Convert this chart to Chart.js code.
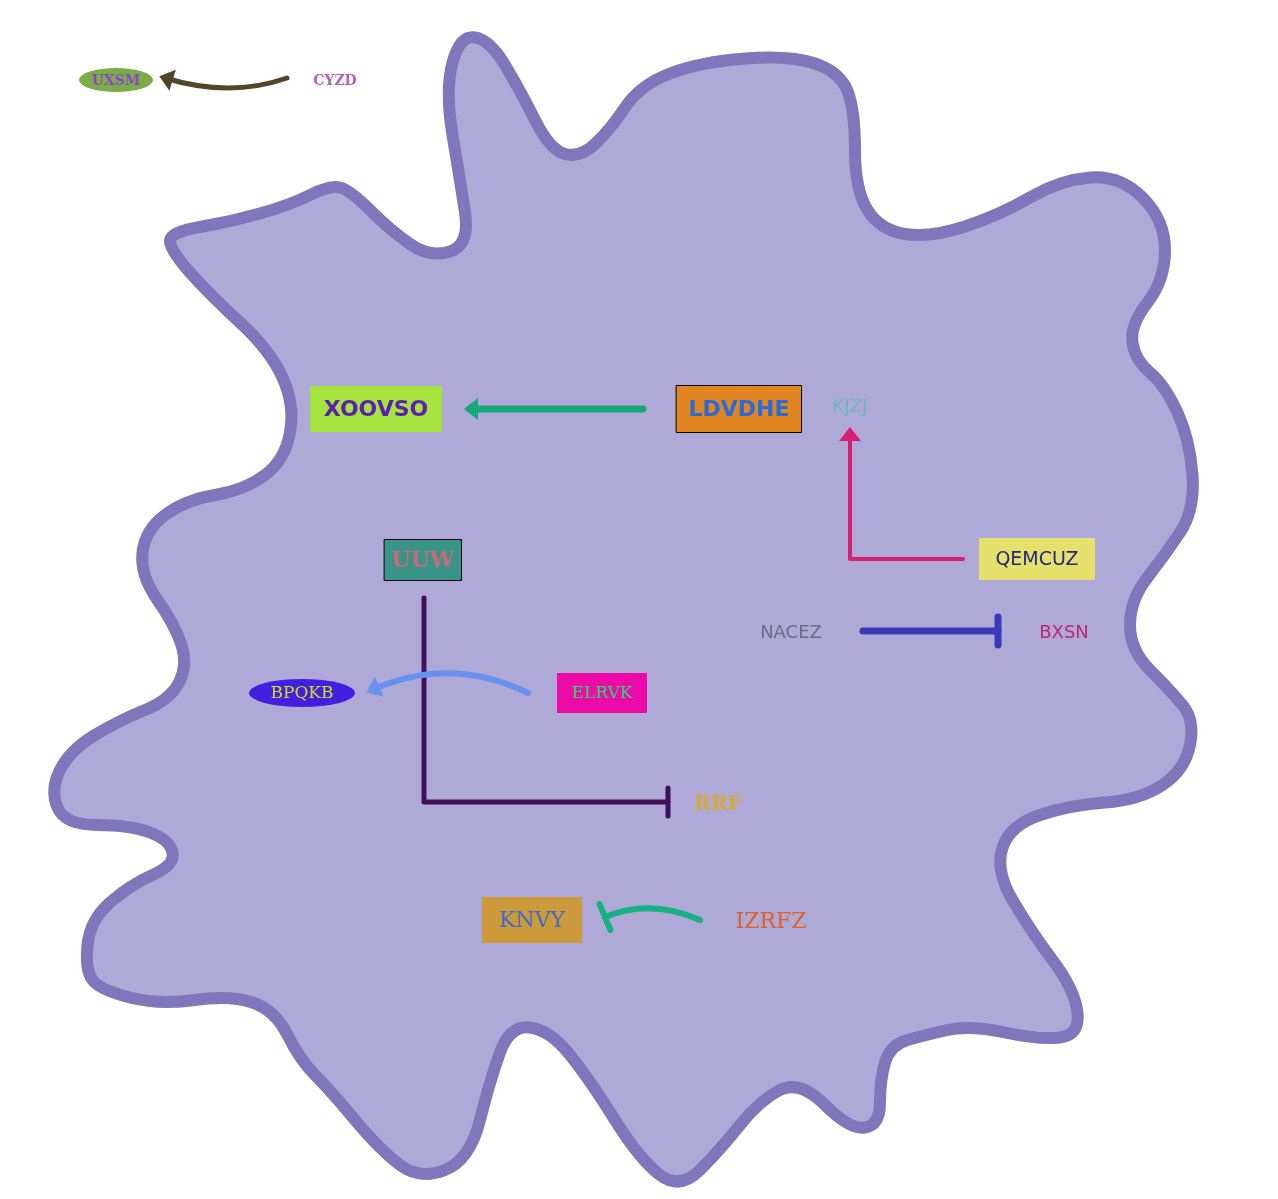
<!DOCTYPE html>
<html>
<head>
<meta charset="utf-8">
<script src="https://cdn.jsdelivr.net/npm/chart.js@4"></script>
<style>
  html, body { margin: 0; padding: 0; background: #fff; }
  #wrap { width: 1278px; height: 1199px; }
</style>
</head>
<body>
<div id="wrap"><canvas id="grafico"></canvas></div>
<script>
// --- Dados ---
// Contorno da célula (x, y em pixels do desenho)
const contornoX = [170,230,290,330,350,390,430,470,460,445,460,490,520,550,580,610,640,700,790,840,855,855,880,930,1000,1060,1120,1165,1165,1130,1135,1165,1190,1195,1165,1130,1130,1170,1195,1185,1140,1070,1010,995,1030,1075,1080,1040,970,925,890,880,880,850,800,760,720,680,640,590,550,510,490,470,420,380,330,300,275,230,160,100,85,90,130,175,170,130,65,50,70,120,170,188,175,140,145,185,245,285,295,270,210,170];
const contornoY = [232,222,205,185,190,230,258,245,180,90,35,40,90,150,158,130,85,62,55,72,110,190,230,238,215,180,175,220,280,325,360,385,440,510,555,600,650,690,720,770,800,805,825,870,930,990,1035,1040,1025,1035,1045,1080,1125,1130,1080,1100,1150,1190,1160,1080,1030,1025,1080,1160,1180,1150,1090,1060,1010,995,1005,990,970,920,885,865,840,825,825,790,750,720,700,665,625,575,530,500,490,460,405,350,295,250];

// Nós: nome, centro, meia-largura, meia-altura, forma
const nomes   = ['UXSM','CYZD','XOOVSO','LDVDHE','KJZJ','QEMCUZ','NACEZ','BXSN','UUW','BPQKB','ELRVK','RRF','KNVY','IZRFZ'];
const nosX    = [116, 335, 376, 739, 850, 1037, 791, 1064, 423, 302, 602, 718, 532, 771];
const nosY    = [80, 80, 409, 409, 406, 559, 632, 632, 560, 693, 693, 804, 920, 921];
const meiaL   = [37, 0, 66, 63, 0, 58, 0, 0, 39, 53, 45, 0, 50, 0];
const meiaA   = [12, 0, 23, 24, 0, 21, 0, 0, 21, 14, 20, 0, 23, 0];
const formas  = ['elipse','texto','ret','ret','texto','ret','texto','texto','ret','elipse','ret','texto','ret','texto'];
const fundos  = ['#7aad48',null,'#a8e23f','#e08520',null,'#e6e06d',null,null,'#379487','#4320e0','#ee0aa8',null,'#cc9a3a',null];
const bordas  = [null,null,null,'#000',null,null,null,null,'#000',null,null,null,null,null];
const corTxt  = ['#8e44c9','#b45ec0','#5b1fb3','#2a6bd8','#6fb5c8','#27287a','#6f6a88','#c0237a','#c96a7a','#c8e020','#20e070','#d8a838','#3e6ad0','#e0602a'];
const fontes  = ['bold 14px "DejaVu Serif"','bold 14px "DejaVu Serif"','bold 22px "DejaVu Sans"','bold 22px "DejaVu Sans"','18px "DejaVu Sans"','19px "DejaVu Sans"','18px "DejaVu Sans"','18px "DejaVu Sans"','bold 22px "DejaVu Serif"','17px "DejaVu Serif"','17px "DejaVu Serif"','bold 20px "DejaVu Serif"','22px "DejaVu Serif"','22px "DejaVu Serif"'];

// Arestas: pontos do caminho (curva quadrática quando tipo = 'curva'), ponta = seta ou barra
const arestas = [
  { px: [287,230,165], py: [78,98,78], tipo: 'curva', ponta: 'seta', cor: '#524628', w: 5 },
  { px: [643,470], py: [409,409], tipo: 'reta', ponta: 'seta', cor: '#16a87a', w: 7 },
  { px: [963,850,850], py: [559,559,433], tipo: 'reta', ponta: 'seta', cor: '#d82070', w: 4 },
  { px: [863,998], py: [631,631], tipo: 'reta', ponta: 'barra', cor: '#3a3ab8', w: 7 },
  { px: [424,424,668], py: [598,802,802], tipo: 'reta', ponta: 'barra', cor: '#40125a', w: 5 },
  { px: [528,450,372], py: [693,655,690], tipo: 'curva', ponta: 'seta', cor: '#6890ee', w: 6 },
  { px: [700,650,605], py: [920,898,917], tipo: 'curva', ponta: 'barra', cor: '#18b080', w: 6 }
];

// --- Plugin de desenho ---
const desenho = {
  id: 'desenho',
  beforeDatasetsDraw(chart) {
    const { ctx, scales } = chart;
    const X = v => scales.x.getPixelForValue(v);
    const Y = v => scales.y.getPixelForValue(v);

    // célula (curva suave fechada)
    const n = contornoX.length;
    ctx.save();
    ctx.beginPath();
    for (let i = 0; i < n; i++) {
      const a = [X(contornoX[i]), Y(contornoY[i])];
      const b = [X(contornoX[(i + 1) % n]), Y(contornoY[(i + 1) % n])];
      const m = [(a[0] + b[0]) / 2, (a[1] + b[1]) / 2];
      if (i === 0) ctx.moveTo(m[0], m[1]);
      else ctx.quadraticCurveTo(a[0], a[1], m[0], m[1]);
    }
    const a0 = [X(contornoX[0]), Y(contornoY[0])];
    const b0 = [X(contornoX[1]), Y(contornoY[1])];
    ctx.quadraticCurveTo(a0[0], a0[1], (a0[0] + b0[0]) / 2, (a0[1] + b0[1]) / 2);
    ctx.closePath();
    ctx.fillStyle = '#afa9d8';
    ctx.fill();
    ctx.lineWidth = 12;
    ctx.strokeStyle = '#7f76bb';
    ctx.lineJoin = 'round';
    ctx.stroke();

    // arestas
    arestas.forEach(e => {
      const xs = e.px.map(X), ys = e.py.map(Y);
      ctx.strokeStyle = e.cor;
      ctx.fillStyle = e.cor;
      ctx.lineWidth = e.w;
      ctx.lineCap = 'round';
      ctx.beginPath();
      ctx.moveTo(xs[0], ys[0]);
      if (e.tipo === 'curva') ctx.quadraticCurveTo(xs[1], ys[1], xs[2], ys[2]);
      else for (let i = 1; i < xs.length; i++) ctx.lineTo(xs[i], ys[i]);
      ctx.stroke();
      const k = xs.length - 1;
      const ang = Math.atan2(ys[k] - ys[k - 1], xs[k] - xs[k - 1]);
      ctx.save();
      ctx.translate(xs[k], ys[k]);
      ctx.rotate(ang);
      if (e.ponta === 'seta') {
        ctx.beginPath();
        ctx.moveTo(6, 0);
        ctx.lineTo(-8, -11);
        ctx.lineTo(-8, 11);
        ctx.closePath();
        ctx.fill();
      } else {
        ctx.beginPath();
        ctx.moveTo(0, -14);
        ctx.lineTo(0, 14);
        ctx.lineWidth = e.w;
        ctx.stroke();
      }
      ctx.restore();
    });

    // nós
    nomes.forEach((nome, i) => {
      const cx = X(nosX[i]), cy = Y(nosY[i]);
      const w = meiaL[i], h = meiaA[i];
      if (formas[i] === 'ret') {
        ctx.fillStyle = fundos[i];
        ctx.fillRect(cx - w, cy - h, w * 2, h * 2);
        if (bordas[i]) {
          ctx.lineWidth = 1;
          ctx.strokeStyle = bordas[i];
          ctx.strokeRect(cx - w + 0.5, cy - h + 0.5, w * 2 - 1, h * 2 - 1);
        }
      } else if (formas[i] === 'elipse') {
        ctx.fillStyle = fundos[i];
        ctx.beginPath();
        ctx.ellipse(cx, cy, w, h, 0, 0, Math.PI * 2);
        ctx.fill();
      }
      ctx.fillStyle = corTxt[i];
      ctx.font = fontes[i];
      ctx.textAlign = 'center';
      ctx.textBaseline = 'middle';
      ctx.fillText(nome, cx, cy + 1);
    });
    ctx.restore();
  }
};

// --- Gráfico ---
const grafico = new Chart(document.getElementById('grafico'), {
  type: 'scatter',
  data: { datasets: [{ data: [], pointRadius: 0 }] },
  options: {
    responsive: true,
    maintainAspectRatio: false,
    animation: false,
    layout: { padding: 0 },
    plugins: { legend: { display: false }, tooltip: { enabled: false } },
    scales: {
      x: { type: 'linear', min: 0, max: 1278, display: false },
      y: { type: 'linear', min: 0, max: 1199, reverse: true, display: false }
    }
  },
  plugins: [desenho]
});
</script>
</body>
</html>
